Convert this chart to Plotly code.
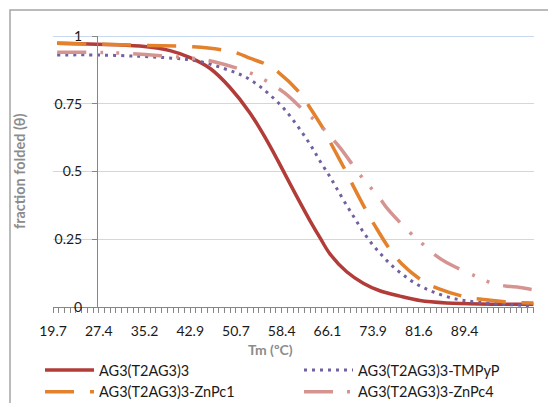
import plotly.graph_objects as go

# ---------------- data ----------------
tick_labels = ["19.7", "27.4", "35.2", "42.9", "50.7", "58.4", "66.1", "73.9", "81.6", "89.4"]
tick_step = 7.74
cat_step = 0.9675
x_min, x_max = 19.7, 101.1

red_T = [20.4, 27.1, 34.4, 39.5, 42.9, 46.3, 49.65, 53.0, 56.4, 58.6, 60.9, 63.2, 64.9, 66.6, 69.4,
         72.2, 75.0, 78.4, 81.8, 86.3, 92.0, 101.0]
red_f = [0.973, 0.970, 0.963, 0.946, 0.920, 0.880, 0.810, 0.717, 0.595, 0.505, 0.410, 0.318, 0.255,
         0.195, 0.130, 0.088, 0.060, 0.040, 0.024, 0.015, 0.011, 0.010]

pur_T = [20.4, 27.1, 34.4, 40.0, 42.9, 45.7, 48.5, 50.8, 52.5, 54.7, 56.7, 58.7, 60.4, 62.05, 63.5,
         64.9, 66.5, 67.7, 69.4, 70.8, 72.2, 73.9, 75.4, 77.0, 79.0, 81.2, 84.0, 88.0, 91.95, 97.5, 101.0]
pur_f = [0.930, 0.930, 0.925, 0.918, 0.912, 0.900, 0.881, 0.863, 0.846, 0.814, 0.777, 0.734, 0.688,
         0.638, 0.590, 0.538, 0.483, 0.438, 0.375, 0.326, 0.277, 0.227, 0.190, 0.154, 0.118, 0.085,
         0.056, 0.029, 0.017, 0.008, 0.005]

ora_T = [20.4, 27.1, 34.4, 43.4, 48.5, 51.0, 53.0, 55.6, 57.9, 61.5, 63.0, 65.7, 66.9, 69.4, 70.5,
         72.8, 74.2, 76.7, 78.7, 82.6, 84.8, 89.7, 92.2, 97.3, 101.0]
ora_f = [0.973, 0.970, 0.966, 0.960, 0.948, 0.936, 0.918, 0.897, 0.865, 0.789, 0.742, 0.648, 0.597,
         0.495, 0.447, 0.352, 0.299, 0.213, 0.160, 0.091, 0.069, 0.036, 0.029, 0.017, 0.015]

pink_T = [20.4, 28.2, 33.9, 38.65, 44.6, 46.8, 51.7, 54.2, 56.7, 58.95, 62.6, 64.8, 66.6, 68.3, 71.4,
          73.0, 74.9, 76.4, 80.1, 82.0, 84.05, 86.3, 91.1, 93.35, 96.1, 98.7, 100.9]
pink_f = [0.940, 0.939, 0.934, 0.926, 0.915, 0.906, 0.875, 0.853, 0.822, 0.789, 0.716, 0.673, 0.630,
          0.587, 0.495, 0.452, 0.404, 0.360, 0.275, 0.238, 0.197, 0.164, 0.115, 0.093, 0.078, 0.072, 0.064]

names = ["AG3(T2AG3)3", "AG3(T2AG3)3-TMPyP", "AG3(T2AG3)3-ZnPc1", "AG3(T2AG3)3-ZnPc4"]
colors = ["#B23C38", "#7360A0", "#E3812D", "#D69491"]

# ---------------- layout geometry ----------------
W, H = 548, 403
ML, MR, MT, MB = 53, 14, 36, 96
PW, PH = W - ML - MR, H - MT - MB


def px(x):
    return (x - ML) / PW


def py(y):
    return (H - MB - y) / PH


FONT = "Lato"

fig = go.Figure()
series = [
    (red_T, red_f, names[0], colors[0], "solid", 3.5),
    (pur_T, pur_f, names[1], colors[1], "3px,5px", 3),
    (ora_T, ora_f, names[2], colors[2], "29px,16px", 3.5),
    (pink_T, pink_f, names[3], colors[3], "29px,14px,3px,13px,3px,14px", 3.5),
]
for T, f, nm, c, dash, w in series:
    fig.add_trace(go.Scatter(x=T, y=f, mode="lines", name=nm,
                             line=dict(color=c, width=w, dash=dash, shape="spline", smoothing=1)))

major_vals = [x_min + tick_step * i for i in range(len(tick_labels))]
n_cat = int(round((x_max - x_min) / cat_step))
minor_vals = [x_min + cat_step * i for i in range(n_cat + 1)]

fig.update_xaxes(range=[x_min, x_max], tickmode="array", tickvals=major_vals, ticktext=tick_labels,
                 ticks="outside", ticklen=5, tickcolor="#868686", tickwidth=1,
                 showline=True, linecolor="#868686", linewidth=1, showgrid=False, zeroline=False,
                 tickfont=dict(family=FONT, size=14, color="#1a1a1a"),
                 minor=dict(tickmode="array", tickvals=minor_vals, ticks="outside", ticklen=5,
                            tickcolor="#868686", tickwidth=1, showgrid=False),
                 ticklabelstandoff=6)
fig.update_yaxes(range=[0, 1], tickmode="array", tickvals=[0, 0.25, 0.5, 0.75, 1],
                 ticktext=["0", "0.25", "0.5", "0.75", "1"],
                 anchor="free", position=px(97),
                 ticks="outside", ticklen=5, tickcolor="#868686",
                 showline=True, linecolor="#868686", linewidth=1,
                 showgrid=True, gridcolor="#C9D8EF", gridwidth=1, zeroline=False,
                 tickfont=dict(family=FONT, size=14, color="#1a1a1a"),
                 ticklabelstandoff=7)

fig.update_layout(
    width=W, height=H,
    margin=dict(l=ML, r=MR, t=MT, b=MB, autoexpand=False),
    paper_bgcolor="white", plot_bgcolor="white",
    font=dict(family=FONT, size=14, color="#1a1a1a"),
    showlegend=True,
    legend=dict(orientation="h", x=px(40), y=py(354), xanchor="left", yanchor="top",
                entrywidth=195, entrywidthmode="pixels", itemwidth=49,
                font=dict(family=FONT, size=14.5, color="#1a1a1a"),
                bgcolor="rgba(0,0,0,0)", tracegroupgap=0),
    shapes=[
        dict(type="line", xref="paper", yref="y", x0=0, x1=1, y0=1, y1=1,
             line=dict(color="#8DB3E2", width=1.2), layer="below"),
        dict(type="rect", xref="paper", yref="paper", x0=px(10), x1=px(620), y0=py(480), y1=py(10),
             line=dict(color="#A5A5A5", width=1.5), layer="below"),
    ],
    annotations=[
        dict(text="<b>Tm (ºC)</b>", xref="paper", yref="paper", x=px(270), y=py(349),
             xanchor="center", yanchor="middle",
             showarrow=False, font=dict(family=FONT, size=14, color="#8C8C8C")),
        dict(text="<b>fraction folded (θ)</b>", xref="paper", yref="paper", x=px(19), y=py(171),
             xanchor="center", yanchor="middle",
             showarrow=False, textangle=-90, font=dict(family=FONT, size=14.5, color="#8C8C8C")),
    ],
)

fig.write_html("out.html")
